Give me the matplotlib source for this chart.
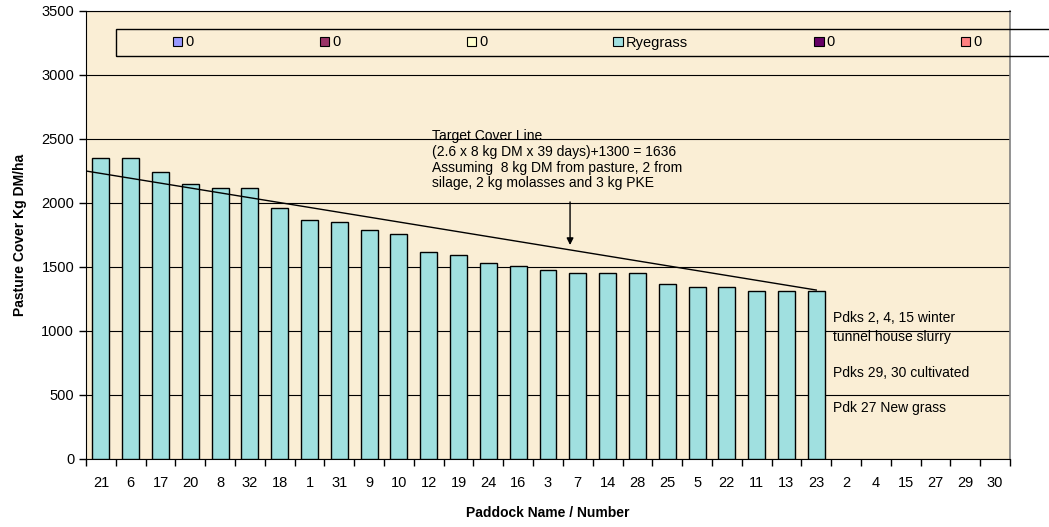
import matplotlib
matplotlib.use("Agg")
import matplotlib.pyplot as plt
from matplotlib.patches import Patch, Rectangle

plt.rcParams['font.family'] = ['Liberation Sans', 'DejaVu Sans']

paddocks = ["21", "6", "17", "20", "8", "32", "18", "1", "31", "9", "10", "12", "19", "24",
            "16", "3", "7", "14", "28", "25", "5", "22", "11", "13", "23",
            "2", "4", "15", "27", "29", "30"]
ryegrass = [2350, 2350, 2240, 2150, 2120, 2120, 1960, 1870, 1850, 1790, 1760, 1620, 1590, 1530,
            1510, 1480, 1450, 1450, 1450, 1370, 1340, 1340, 1310, 1310, 1310,
            0, 0, 0, 0, 0, 0]
target_x = [-0.5, 24]
target_y = [2250, 1320]
legend_labels = ["0", "0", "0", "Ryegrass", "0", "0"]
legend_colors = ["#9999FF", "#993366", "#FFFFCC", "#A0E0E0", "#660066", "#FF8080"]

fig = plt.figure(figsize=(10.49, 5.27), dpi=100)
ax = fig.add_axes([86/1049, 1-459/527, (1010-86)/1049, (459-11)/527])
ax.set_facecolor("#FAEED5")

x = list(range(len(paddocks)))
edges = ["black" if v > 0 else "none" for v in ryegrass]
ax.bar(x, ryegrass, width=0.57, color="#A0E0E0", edgecolor=edges, linewidth=1.0, zorder=3)
ax.plot(target_x, target_y, color="black", linewidth=1.0, zorder=4)

ax.set_xlim(-0.5, len(paddocks) - 0.5)
ax.set_ylim(0, 3500)
ax.set_yticks(range(0, 3501, 500))
ax.yaxis.grid(True, color="black", linewidth=0.8, zorder=0)
ax.set_axisbelow(True)
ax.set_xticks(x)
ax.set_xticklabels(paddocks, fontsize=10.5)
ax.set_xticks([i - 0.5 for i in range(len(paddocks) + 1)], minor=True)
ax.tick_params(axis='x', which='major', length=0, pad=12)
ax.tick_params(axis='x', which='minor', length=5, direction='out', width=1)
ax.tick_params(axis='y', labelsize=10.5, length=5, width=1)

for s in ['left', 'bottom', 'top']:
    ax.spines[s].set_color('black')
ax.spines['right'].set_color('#808080')
ax.spines['right'].set_linewidth(1.2)

ax.set_ylabel("Pasture Cover Kg DM/ha", fontsize=10, fontweight='bold', labelpad=10)
ax.set_xlabel("Paddock Name / Number", fontsize=10, fontweight='bold', labelpad=12)

ax.text(11.1, 2575, "Target Cover Line\n(2.6 x 8 kg DM x 39 days)+1300 = 1636\n"
        "Assuming  8 kg DM from pasture, 2 from\nsilage, 2 kg molasses and 3 kg PKE",
        fontsize=10, va='top', ha='left', linespacing=1.15, zorder=5)
ax.annotate("", xy=(15.74, 1650), xytext=(15.74, 2030),
            arrowprops=dict(arrowstyle='-|>', color='black', lw=1.0, mutation_scale=10), zorder=5)

ax.text(24.57, 1101, "Pdks 2, 4, 15 winter", fontsize=10, va='center', ha='left', zorder=5)
ax.text(24.57, 953, "tunnel house slurry", fontsize=10, va='center', ha='left', zorder=5)
ax.text(24.57, 672, "Pdks 29, 30 cultivated", fontsize=10, va='center', ha='left', zorder=5)
ax.text(24.57, 398, "Pdk 27 New grass", fontsize=10, va='center', ha='left', zorder=5)

# legend box
fig.patches.append(Rectangle((116/1049, 1-56/527), (1060-116)/1049, 27/527,
                             transform=fig.transFigure, facecolor='none',
                             edgecolor='black', linewidth=1.0, zorder=6))
handles = [Patch(facecolor=c, edgecolor='black', linewidth=0.8) for c in legend_colors]
fig.legend(handles, legend_labels, ncol=6, frameon=False, loc='center left',
           bbox_to_anchor=(173/1049, 1-42.5/527), fontsize=10.5,
           handlelength=0.65, handleheight=0.65, handletextpad=0.2,
           columnspacing=8.65, borderaxespad=0, borderpad=0)

fig.savefig("out.png", dpi=100)
